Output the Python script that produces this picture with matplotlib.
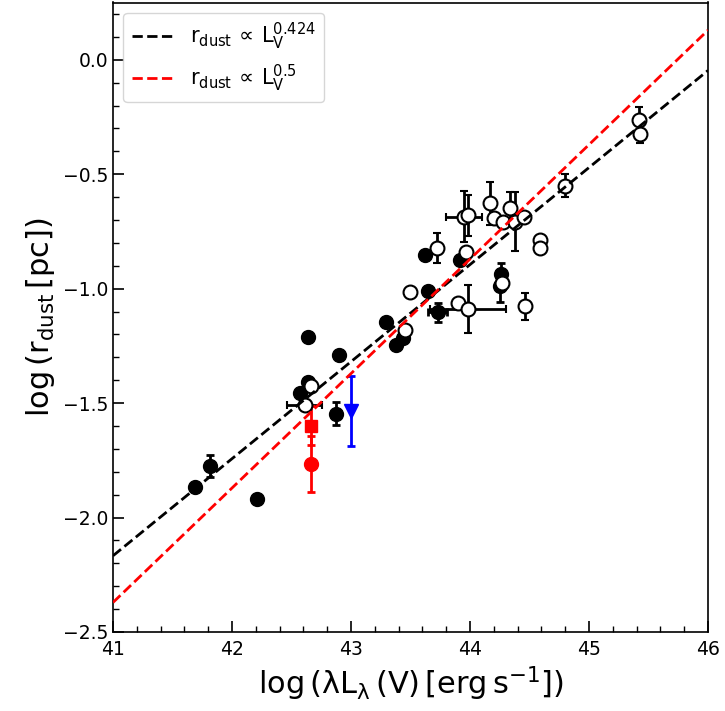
import numpy as np
import matplotlib.pyplot as plt

# filled black points: log L, log r, xerr, yerr
fill_x = [41.69, 41.815, 42.21, 42.64, 42.90, 42.64, 42.57, 42.87, 43.29, 43.44,
          43.375, 43.65, 43.73, 43.62, 43.92, 44.26, 44.25]
fill_y = [-1.865, -1.775, -1.917, -1.213, -1.289, -1.41, -1.454, -1.547, -1.144, -1.217,
          -1.246, -1.01, -1.104, -0.855, -0.874, -0.935, -0.99]
fill_xe = [0, 0, 0, 0, 0, 0, 0, 0, 0, 0, 0, 0, 0.08, 0, 0, 0, 0]
fill_ye = [0, 0.05, 0, 0, 0, 0, 0, 0.05, 0, 0, 0, 0, 0.04, 0, 0, 0.045, 0.07]

# open points
open_x = [42.61, 42.66, 43.45, 43.50, 43.90, 43.985, 44.46, 44.27, 43.72, 43.97,
          43.95, 43.98, 44.17, 44.20, 44.28, 44.34, 44.38, 44.45, 44.59, 44.59,
          44.80, 45.42, 45.43]
open_y = [-1.509, -1.425, -1.18, -1.013, -1.063, -1.088, -1.078, -0.975, -0.823, -0.84,
          -0.685, -0.68, -0.627, -0.692, -0.707, -0.648, -0.707, -0.685, -0.787, -0.823,
          -0.55, -0.265, -0.323]
open_xe = [0.15, 0, 0, 0, 0, 0.32, 0, 0, 0, 0,
           0.15, 0, 0, 0, 0, 0, 0, 0, 0, 0,
           0, 0, 0]
open_ye = [0, 0, 0, 0, 0, 0.106, 0.057, 0.03, 0.065, 0,
           0.11, 0.09, 0.095, 0, 0, 0.07, 0.13, 0, 0, 0,
           0.05, 0.06, 0.04]

# special objects
red_circ = (42.665, -1.767, 0.123)
red_sq = (42.665, -1.598, 0.087)
blue_tri = (43.0, -1.535, 0.153)

# fits: log r = slope*(log L - 44) + b
slope_k, b_k = 0.424, -0.895
slope_r, b_r = 0.5, -0.871

fig = plt.figure(figsize=(7.25, 7.11), dpi=100)
ax = fig.add_axes([113/725, 79/711, 595/725, 629.5/711])

ekw = dict(ls='none', ecolor='k', elinewidth=2, capsize=3, capthick=2, ms=10)
ax.errorbar(fill_x, fill_y, xerr=fill_xe, yerr=fill_ye, fmt='o', mfc='k', mec='k', **ekw)
ax.errorbar(open_x, open_y, xerr=open_xe, yerr=open_ye, fmt='o', mfc='w', mec='k',
            mew=1.5, **ekw)

ax.errorbar([red_sq[0]], [red_sq[1]], yerr=[red_sq[2]], fmt='s', color='r', ms=9,
            elinewidth=2, capsize=3, capthick=2)
ax.errorbar([red_circ[0]], [red_circ[1]], yerr=[red_circ[2]], fmt='o', color='r', ms=10,
            elinewidth=2, capsize=3, capthick=2)
ax.errorbar([blue_tri[0]], [blue_tri[1]], yerr=[blue_tri[2]], fmt='v', color='b', ms=10,
            elinewidth=2, capsize=3, capthick=2)

xx = np.array([41, 46])
ax.plot(xx, slope_k*(xx-44)+b_k, 'k--', lw=2, zorder=5,
        label=r'$\mathrm{r_{dust}\,\propto\,L_V^{0.424}}$')
ax.plot(xx, slope_r*(xx-44)+b_r, 'r--', lw=2, zorder=5,
        label=r'$\mathrm{r_{dust}\,\propto\,L_V^{0.5}}$')

ax.set_xlim(41, 46)
ax.set_ylim(-2.5, 0.25)
ax.set_xticks(np.arange(41, 46.1, 1))
ax.set_xticks(np.arange(41, 46.01, 0.2), minor=True)
ax.set_yticks(np.arange(-2.5, 0.1, 0.5))
ax.set_yticks(np.arange(-2.5, 0.26, 0.1), minor=True)
ax.tick_params(which='both', direction='in', labelsize=13.5)
ax.tick_params(axis='x', pad=6)
ax.tick_params(which='major', length=8, width=1.2)
ax.tick_params(which='minor', length=4, width=1)
for s in ax.spines.values():
    s.set_linewidth(1.2)

ax.set_xlabel(r'$\mathrm{log\,(\lambda L_\lambda\,(V)\,[erg\,s^{-1}])}$', fontsize=22)
ax.set_ylabel(r'$\mathrm{log\,(r_{dust}\,[pc])}$', fontsize=22)
ax.legend(loc='upper left', fontsize=15, handlelength=2)

fig.savefig('out.png', dpi=100)
